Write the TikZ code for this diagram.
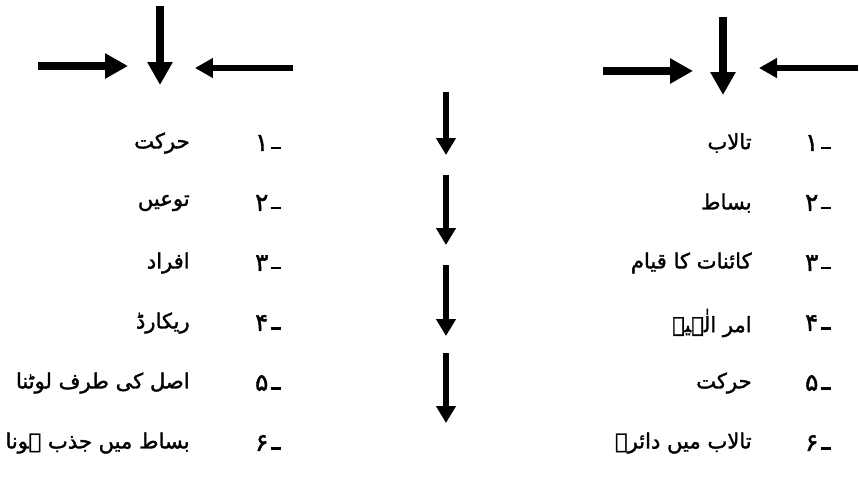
\documentclass[tikz,border=0pt]{standalone}
\usepackage{fontspec}
\newfontfamily\urdufont[Script=Arabic,FakeBold=1.6]{DejaVu Sans}
\usetikzlibrary{arrows.meta}
\TeXXeTstate=1
% Urdu full stop, drawn as a short stroke
\newcommand{\urdustop}{\kern1.5pt\rule[0.1ex]{5.5pt}{1.5pt}}

\begin{document}
\begin{tikzpicture}[x=0.02cm,y=-0.02cm,
    bigarrow/.style={line width=0.17cm,-{Triangle[width=0.48cm,length=0.46cm]}},
    slimarrow/.style={line width=0.12cm,-{Triangle[width=0.38cm,length=0.36cm]}},
    downarrow/.style={line width=0.12cm,-{Triangle[width=0.38cm,length=0.34cm]}},
    urdu/.style={anchor=east,inner sep=0pt,font=\urdufont\fontsize{12}{15}\selectfont},
    urdunum/.style={urdu,font=\urdufont\fontsize{14}{16}\selectfont}]
    \useasboundingbox (0,0) rectangle (859,478);
    % left group
    \begin{scope}[shift={(0,0)}]
        \coordinate (la) at (160,6);    \coordinate (lb) at (160,85);
        \coordinate (lc) at (38,66);    \coordinate (ld) at (128,66);
        \coordinate (le) at (293,68);   \coordinate (lf) at (195,68);
        \draw[bigarrow] (la) -- (lb);
        \draw[bigarrow] (lc) -- (ld);
        \draw[slimarrow] (le) -- (lf);
    \end{scope}
    % right group
    \begin{scope}[shift={(563,8)}]
        \coordinate (ra) at (160,9);    \coordinate (rb) at (160,87);
        \coordinate (rc) at (40,63);    \coordinate (rd) at (130,63);
        \coordinate (re) at (295,60);   \coordinate (rf) at (196,60);
        \draw[bigarrow] (ra) -- (rb);
        \draw[bigarrow] (rc) -- (rd);
        \draw[slimarrow] (re) -- (rf);
    \end{scope}
    % middle column
    \foreach \i/\ya/\yb in {1/92/155,2/175/245,3/265/336,4/353/423}{
        \coordinate (m\i a) at (446,\ya);
        \coordinate (m\i b) at (446,\yb);
        \draw[downarrow] (m\i a) -- (m\i b);
    }
    % left list
    \foreach \i/\n/\y/\txt in {1/۱/143/حرکت,2/۲/203/توعیں,3/۳/263/افراد,
        4/۴/323/ریکارڈ,5/۵/383/اصل کی طرف لوٹنا,6/۶/443/بساط میں جذب ہونا}{
        \node[urdunum] (ln\i) at (281,\y) {\beginR\n\endR\urdustop};
        \node[urdu] (lt\i) at (190,\y) {\beginR \txt\endR};
    }
    % right list
    \foreach \i/\n/\y/\txt in {1/۱/143/تالاب,2/۲/203/بساط,3/۳/263/کائنات کا قیام,
        4/۴/323/امر الٰہیہ,5/۵/383/حرکت,6/۶/443/تالاب میں دائرے}{
        \node[urdunum] (rn\i) at (831,\y) {\beginR\n\endR\urdustop};
        \node[urdu] (rt\i) at (752,\y) {\beginR \txt\endR};
    }
\end{tikzpicture}
\end{document}
